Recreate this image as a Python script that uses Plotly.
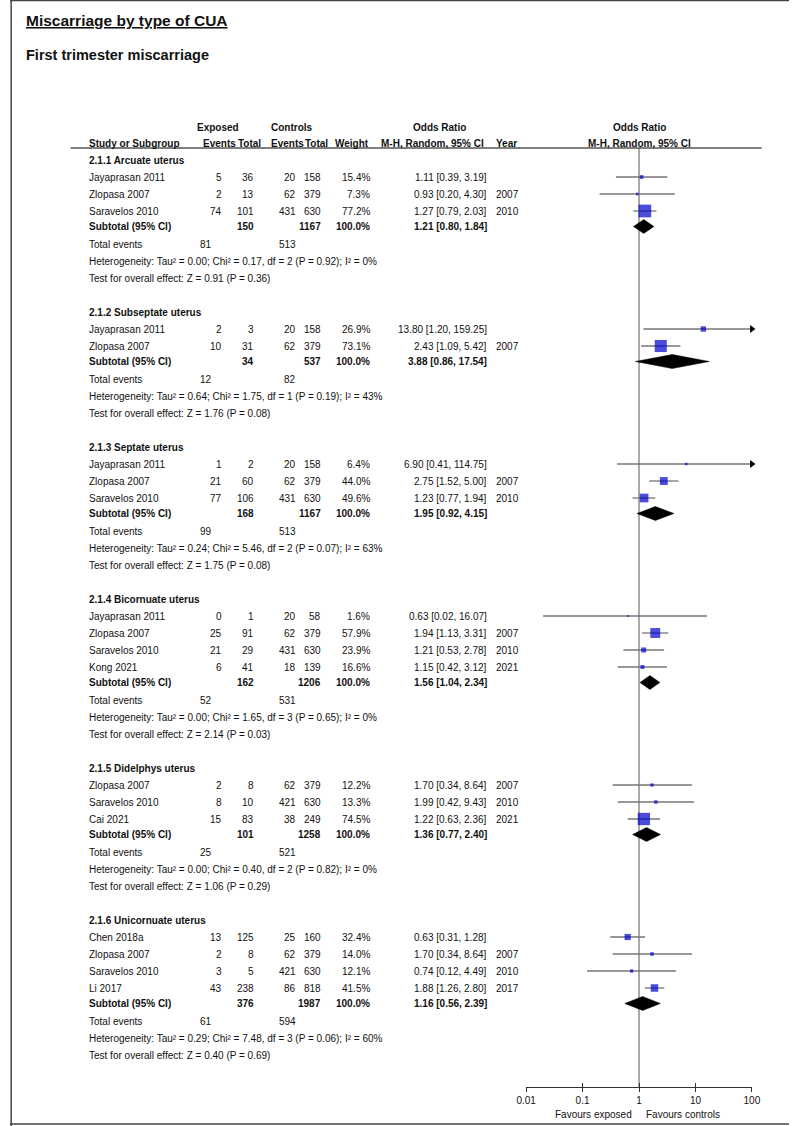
import plotly.graph_objects as go

# ---------------- data ----------------
title_main = "Miscarriage by type of CUA"
title_sub = "First trimester miscarriage"

groups = ["2.1.1 Arcuate uterus", "2.1.2 Subseptate uterus", "2.1.3 Septate uterus",
          "2.1.4 Bicornuate uterus", "2.1.5 Didelphys uterus", "2.1.6 Unicornuate uterus"]

study_names = [
    ["Jayaprasan 2011", "Zlopasa 2007", "Saravelos 2010"],
    ["Jayaprasan 2011", "Zlopasa 2007"],
    ["Jayaprasan 2011", "Zlopasa 2007", "Saravelos 2010"],
    ["Jayaprasan 2011", "Zlopasa 2007", "Saravelos 2010", "Kong 2021"],
    ["Zlopasa 2007", "Saravelos 2010", "Cai 2021"],
    ["Chen 2018a", "Zlopasa 2007", "Saravelos 2010", "Li 2017"],
]
exp_events = [[5, 2, 74], [2, 10], [1, 21, 77], [0, 25, 21, 6], [2, 8, 15], [13, 2, 3, 43]]
exp_total = [[36, 13, 101], [3, 31], [2, 60, 106], [1, 91, 29, 41], [8, 10, 83], [125, 8, 5, 238]]
ctl_events = [[20, 62, 431], [20, 62], [20, 62, 431], [20, 62, 431, 18], [62, 421, 38], [25, 62, 421, 86]]
ctl_total = [[158, 379, 630], [158, 379], [158, 379, 630], [58, 379, 630, 139], [379, 630, 249], [160, 379, 630, 818]]
weights = [[15.4, 7.3, 77.2], [26.9, 73.1], [6.4, 44.0, 49.6], [1.6, 57.9, 23.9, 16.6], [12.2, 13.3, 74.5], [32.4, 14.0, 12.1, 41.5]]
or_est = [[1.11, 0.93, 1.27], [13.80, 2.43], [6.90, 2.75, 1.23], [0.63, 1.94, 1.21, 1.15], [1.70, 1.99, 1.22], [0.63, 1.70, 0.74, 1.88]]
or_low = [[0.39, 0.20, 0.79], [1.20, 1.09], [0.41, 1.52, 0.77], [0.02, 1.13, 0.53, 0.42], [0.34, 0.42, 0.63], [0.31, 0.34, 0.12, 1.26]]
or_high = [[3.19, 4.30, 2.03], [159.25, 5.42], [114.75, 5.00, 1.94], [16.07, 3.31, 2.78, 3.12], [8.64, 9.43, 2.36], [1.28, 8.64, 4.49, 2.80]]
years = [["", "2007", "2010"], ["", "2007"], ["", "2007", "2010"], ["", "2007", "2010", "2021"],
         ["2007", "2010", "2021"], ["", "2007", "2010", "2017"]]

sub_exp_total = [150, 34, 168, 162, 101, 376]
sub_ctl_total = [1167, 537, 1167, 1206, 1258, 1987]
sub_or = [1.21, 3.88, 1.95, 1.56, 1.36, 1.16]
sub_low = [0.80, 0.86, 0.92, 1.04, 0.77, 0.56]
sub_high = [1.84, 17.54, 4.15, 2.34, 2.40, 2.39]
tot_exp_events = [81, 12, 99, 52, 25, 61]
tot_ctl_events = [513, 82, 513, 531, 521, 594]
het_tau2 = ["0.00", "0.64", "0.24", "0.00", "0.00", "0.29"]
het_chi2 = ["0.17", "1.75", "5.46", "1.65", "0.40", "7.48"]
het_df = [2, 1, 2, 3, 2, 3]
het_p = ["0.92", "0.19", "0.07", "0.65", "0.82", "0.06"]
het_i2 = [0, 43, 63, 0, 0, 60]
eff_z = ["0.91", "1.76", "1.75", "2.14", "1.06", "0.40"]
eff_p = ["0.36", "0.08", "0.08", "0.03", "0.29", "0.69"]

axis_tickvals = [0.01, 0.1, 1, 10, 100]
axis_ticktext = ["0.01", "0.1", "1", "10", "100"]
favours_left = "Favours exposed"
favours_right = "Favours controls"

# ---------------- style / layout ----------------
W, H = 798, 1126
FONT = "Liberation Sans, Arial, sans-serif"
TXT = "#111111"
FS = 10
SQ_COLOR = "#0000CC"
CI_COLOR = "#767676"
AX_MIN, AX_MAX = 0.01, 100
PLOT_L, PLOT_R = 528.7, 760.0
AXIS_Y = 1087.0
HEADER_LINE_Y = 148.0

COL_STUDY = 80
COL_EE = 218
COL_ET = 251
COL_CE = 294
COL_CT = 320
COL_W = 370
COL_OR = 490
COL_YEAR = 497
COL_TOT_E = 208

annotations = []


def txt(x, y, s, anchor="left", bold=False, size=FS, font=FONT):
    annotations.append(dict(
        x=x, y=y, xref="x", yref="y", text=("<b>%s</b>" % s) if bold else s,
        showarrow=False, xanchor=anchor, yanchor="middle", borderpad=0,
        font=dict(size=size, family=font, color=TXT)))


# titles
txt(15, 20, "<u>%s</u>" % title_main, bold=True, size=15.5)
txt(15, 55, title_sub, bold=True, size=14.5)

# column headers
txt(213, 127, "Exposed", "center", True)
txt(289, 127, "Controls", "center", True)
txt(440, 127, "Odds Ratio", "center", True)
txt(645, 127, "Odds Ratio", "center", True)
txt(COL_STUDY, 143, "Study or Subgroup", "left", True)
txt(215, 143, "Events", "center", True)
txt(245.5, 143, "Total", "center", True)
txt(284, 143, "Events", "center", True)
txt(314, 143, "Total", "center", True)
txt(350.5, 143, "Weight", "center", True)
txt(433, 143, "M-H, Random, 95% CI", "center", True)
txt(COL_YEAR, 143, "Year", "left", True)
txt(645, 143, "M-H, Random, 95% CI", "center", True)

ci_x, ci_y = [], []
sq_x, sq_y, sq_s = [], [], []
arr_x, arr_y = [], []
diamonds = []

y = 160.0
for g in range(len(groups)):
    txt(COL_STUDY, y, groups[g], "left", True)
    yy = y
    for i in range(len(study_names[g])):
        yy += 17
        txt(COL_STUDY, yy, study_names[g][i])
        txt(COL_EE, yy, str(exp_events[g][i]), "right")
        txt(COL_ET, yy, str(exp_total[g][i]), "right")
        txt(COL_CE, yy, str(ctl_events[g][i]), "right")
        txt(COL_CT, yy, str(ctl_total[g][i]), "right")
        txt(COL_W, yy, "%.1f%%" % weights[g][i], "right")
        txt(COL_OR, yy, "%.2f [%.2f, %.2f]" % (or_est[g][i], or_low[g][i], or_high[g][i]), "right")
        if years[g][i]:
            txt(COL_YEAR, yy, years[g][i])
        lo = max(or_low[g][i], AX_MIN)
        hi = min(or_high[g][i], AX_MAX)
        ci_x += [lo, hi, None]
        ci_y += [yy, yy, None]
        if or_high[g][i] > AX_MAX:
            arr_x.append(AX_MAX)
            arr_y.append(yy)
        sq_x.append(or_est[g][i])
        sq_y.append(yy)
        sq_s.append(1.5 + 0.145 * weights[g][i])
    ys = yy + 15.5
    txt(COL_STUDY, ys, "Subtotal (95% CI)", "left", True)
    txt(COL_ET, ys, str(sub_exp_total[g]), "right", True)
    txt(COL_CT, ys, str(sub_ctl_total[g]), "right", True)
    txt(COL_W, ys, "100.0%", "right", True)
    txt(COL_OR, ys, "%.2f [%.2f, %.2f]" % (sub_or[g], sub_low[g], sub_high[g]), "right", True)
    diamonds.append((sub_low[g], sub_or[g], sub_high[g], ys))
    yt = ys + 18
    txt(COL_STUDY, yt, "Total events")
    txt(COL_TOT_E, yt, str(tot_exp_events[g]), "right")
    txt(COL_CE, yt, str(tot_ctl_events[g]), "right")
    yh = yt + 17
    txt(COL_STUDY, yh, "Heterogeneity: Tau² = %s; Chi² = %s, df = %d (P = %s); I² = %d%%"
        % (het_tau2[g], het_chi2[g], het_df[g], het_p[g], het_i2[g]))
    ye = yh + 17
    txt(COL_STUDY, ye, "Test for overall effect: Z = %s (P = %s)" % (eff_z[g], eff_p[g]))
    y = ye + 33.5

# favours labels
txt(638, 1114, favours_left, "right")
txt(650, 1114, favours_right, "left")

fig = go.Figure()

# invisible anchor trace for the pixel-layout axes
fig.add_trace(go.Scatter(x=[0], y=[-50], mode="markers", marker=dict(opacity=0),
                         hoverinfo="skip", showlegend=False, xaxis="x", yaxis="y"))

# line of no effect
fig.add_trace(go.Scatter(x=[1, 1], y=[HEADER_LINE_Y, AXIS_Y], mode="lines",
                         line=dict(color="#555555", width=1), hoverinfo="skip",
                         showlegend=False, xaxis="x2", yaxis="y"))
# confidence intervals
fig.add_trace(go.Scatter(x=ci_x, y=ci_y, mode="lines", line=dict(color=CI_COLOR, width=1.3),
                         hoverinfo="skip", showlegend=False, xaxis="x2", yaxis="y",
                         cliponaxis=False))
# arrows for truncated CIs
fig.add_trace(go.Scatter(x=arr_x, y=arr_y, mode="markers",
                         marker=dict(symbol="triangle-right", size=7, color="#000000"),
                         hoverinfo="skip", showlegend=False, xaxis="x2", yaxis="y",
                         cliponaxis=False))
# study squares
fig.add_trace(go.Scatter(x=sq_x, y=sq_y, mode="markers",
                         marker=dict(symbol="square", size=sq_s, color=SQ_COLOR, line=dict(width=0)),
                         hoverinfo="skip", showlegend=False, xaxis="x2", yaxis="y",
                         cliponaxis=False))
# subtotal diamonds
for lo, est, hi, yc in diamonds:
    fig.add_trace(go.Scatter(x=[lo, est, hi, est, lo], y=[yc, yc - 7, yc, yc + 7, yc],
                             mode="lines", fill="toself", fillcolor="#000000",
                             line=dict(color="#000000", width=0.5), hoverinfo="skip",
                             showlegend=False, xaxis="x2", yaxis="y", cliponaxis=False))
# overlay axis anchor trace (for inside tick marks)
fig.add_trace(go.Scatter(x=[1], y=[-50], mode="markers", marker=dict(opacity=0),
                         hoverinfo="skip", showlegend=False, xaxis="x3", yaxis="y"))

axis_pos = (H - AXIS_Y) / H

fig.update_layout(
    width=W, height=H, margin=dict(l=0, r=0, t=0, b=0),
    paper_bgcolor="white", plot_bgcolor="rgba(0,0,0,0)", showlegend=False,
    hovermode=False,
    xaxis=dict(range=[0, W], domain=[0, 1], visible=False, fixedrange=True),
    yaxis=dict(range=[H, 0], domain=[0, 1], visible=False, fixedrange=True),
    xaxis2=dict(type="log", range=[-2, 2], domain=[PLOT_L / W, PLOT_R / W],
                anchor="free", position=axis_pos, side="bottom",
                showline=True, linecolor="#333333", linewidth=1,
                ticks="outside", ticklen=4, tickwidth=1, tickcolor="#333333",
                tickvals=axis_tickvals, ticktext=axis_ticktext,
                tickfont=dict(size=FS, family=FONT, color=TXT),
                showgrid=False, zeroline=False, fixedrange=True),
    xaxis3=dict(type="log", range=[-2, 2], domain=[PLOT_L / W, PLOT_R / W],
                anchor="free", position=axis_pos, overlaying="x2", side="bottom",
                showline=False, ticks="inside", ticklen=4, tickwidth=1, tickcolor="#333333",
                tickvals=axis_tickvals, showticklabels=False,
                showgrid=False, zeroline=False, fixedrange=True),
    annotations=annotations,
    shapes=[
        dict(type="line", xref="x", yref="y", x0=62, x1=770, y0=HEADER_LINE_Y, y1=HEADER_LINE_Y,
             line=dict(color="#555555", width=1.3)),
        dict(type="line", xref="paper", yref="paper", x0=0.0015, x1=0.0015, y0=0, y1=1,
             line=dict(color="#444444", width=1.5)),
        dict(type="line", xref="paper", yref="paper", x0=0, x1=1, y0=0.9995, y1=0.9995,
             line=dict(color="#444444", width=1.5)),
        dict(type="line", xref="paper", yref="paper", x0=0, x1=1, y0=(H - 1124) / H, y1=(H - 1124) / H,
             line=dict(color="#444444", width=1.5)),
    ],
)

fig.write_html("out.html", config={"displayModeBar": False, "staticPlot": True},
               post_script="document.body.style.margin='0px';document.body.style.overflow='hidden';")
